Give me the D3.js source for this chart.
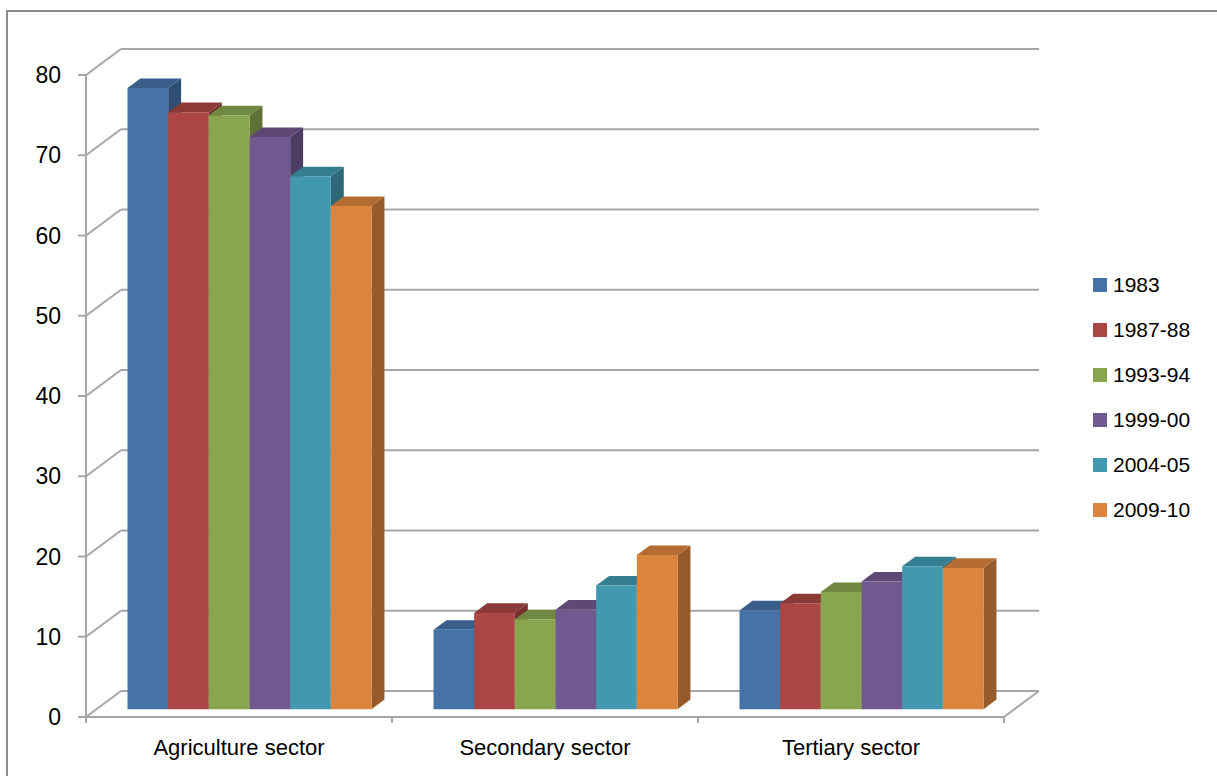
<!DOCTYPE html>
<html>
<head>
<meta charset="utf-8">
<script src="https://cdn.jsdelivr.net/npm/d3@7"></script>
<style>
  html, body { margin: 0; padding: 0; background: #fff; }
  svg { display: block; font-family: "Liberation Sans", Arial, sans-serif; }
</style>
</head>
<body>
<svg id="chart" width="1217" height="776"></svg>
<script>
// Employment share by sector (%), per survey round
const categories = ["Agriculture sector", "Secondary sector", "Tertiary sector"];
const seriesNames = ["1983", "1987-88", "1993-94", "1999-00", "2004-05", "2009-10"];
const agriculture = [77.4, 74.4, 74.0, 71.3, 66.4, 62.7];
const secondary   = [9.9, 12.0, 11.2, 12.4, 15.4, 19.2];
const tertiary    = [12.3, 13.2, 14.6, 15.9, 17.8, 17.6];
const yTicks = [0, 10, 20, 30, 40, 50, 60, 70, 80];
const colors = ["#4572A7", "#AA4643", "#89A54E", "#71588F", "#4198AF", "#DB843D"];

const values = [agriculture, secondary, tertiary];

const svg = d3.select("#chart");

// oblique projection: depth z in [0,1] shifts points right and up
const DX = 35, DY = 26;
const proj = (x, y, z) => [x + DX * z, y - DY * z];

const x0 = d3.scaleBand().domain(categories).range([86, 1004]).padding(0);
const x1 = d3.scaleBand().domain(seriesNames)
  .range([31, x0.bandwidth() - 31]).padding(0);
const y = d3.scaleLinear().domain([0, 80]).range([717, 75]);

const grid = "#a6a6a6";

// outer frame
svg.append("path")
  .attr("d", "M7,776 L7,11 L1217,11")
  .attr("fill", "none").attr("stroke", "#8c8c8c").attr("stroke-width", 2);

const [xl, xr] = x0.range();

// back wall gridlines and left wall diagonals
const g = svg.append("g");
yTicks.forEach(t => {
  const [bx0, by] = proj(xl, y(t), 1);
  const [bx1] = proj(xr, y(t), 1);
  g.append("line").attr("x1", bx0).attr("x2", bx1).attr("y1", by).attr("y2", by)
    .attr("stroke", grid).attr("stroke-width", 2);
  g.append("line").attr("x1", xl).attr("y1", y(t)).attr("x2", bx0).attr("y2", by)
    .attr("stroke", grid).attr("stroke-width", 2);
});

// floor: front edge and right diagonal
const [fx, fy] = proj(xr, y(0), 1);
g.append("line").attr("x1", xl).attr("x2", xr).attr("y1", y(0)).attr("y2", y(0))
  .attr("stroke", grid).attr("stroke-width", 2);
g.append("line").attr("x1", xr).attr("y1", y(0)).attr("x2", fx).attr("y2", fy)
  .attr("stroke", grid).attr("stroke-width", 2);

// front vertical axis line with ticks
g.append("line").attr("x1", xl).attr("x2", xl).attr("y1", y(80)).attr("y2", y(0))
  .attr("stroke", grid).attr("stroke-width", 2);
yTicks.forEach(t => {
  g.append("line").attr("x1", xl - 8).attr("x2", xl).attr("y1", y(t)).attr("y2", y(t))
    .attr("stroke", grid).attr("stroke-width", 2);
});
// category tick marks
d3.range(categories.length + 1).forEach(i => {
  const xx = xl + i * x0.bandwidth();
  g.append("line").attr("x1", xx).attr("x2", xx).attr("y1", y(0)).attr("y2", y(0) + 6)
    .attr("stroke", grid).attr("stroke-width", 2);
});

// y axis labels
svg.append("g").selectAll("text").data(yTicks).join("text")
  .attr("x", 61).attr("y", d => y(d) + 2)
  .attr("text-anchor", "end").attr("dominant-baseline", "middle")
  .attr("font-size", 23).attr("fill", "#000").text(d => d);

// category labels
svg.append("g").selectAll("text").data(categories).join("text")
  .attr("x", d => x0(d) + x0.bandwidth() / 2).attr("y", 755)
  .attr("text-anchor", "middle").attr("font-size", 22).attr("fill", "#000")
  .text(d => d);

// 3D bars
const zF = 0.3, zB = 0.67;
const poly = pts => pts.map(p => p.join(",")).join(" ");
const bars = svg.append("g");
categories.forEach((cat, ci) => {
  seriesNames.forEach((s, si) => {
    const v = values[ci][si];
    const xa = x0(cat) + x1(s), xb = xa + x1.bandwidth();
    const yt = y(v), yb = y(0);
    const c = colors[si];
    const top = d3.color(c).darker(0.55).formatHex();
    const side = d3.color(c).darker(1.05).formatHex();
    // right face
    bars.append("polygon").attr("fill", side).attr("points", poly([
      proj(xb, yt, zF), proj(xb, yt, zB), proj(xb, yb, zB), proj(xb, yb, zF)
    ]));
    // top face
    bars.append("polygon").attr("fill", top).attr("points", poly([
      proj(xa, yt, zF), proj(xa, yt, zB), proj(xb, yt, zB), proj(xb, yt, zF)
    ]));
    // front face
    bars.append("polygon").attr("fill", c).attr("points", poly([
      proj(xa, yt, zF), proj(xb, yt, zF), proj(xb, yb, zF), proj(xa, yb, zF)
    ]));
  });
});

// legend
const legend = svg.append("g");
seriesNames.forEach((s, i) => {
  const cy = 285 + i * 45;
  legend.append("rect").attr("x", 1093).attr("y", cy - 7).attr("width", 14).attr("height", 14)
    .attr("fill", colors[i]);
  legend.append("text").attr("x", 1113).attr("y", cy + 1)
    .attr("dominant-baseline", "middle").attr("font-size", 21).attr("fill", "#000").text(s);
});
</script>
</body>
</html>
